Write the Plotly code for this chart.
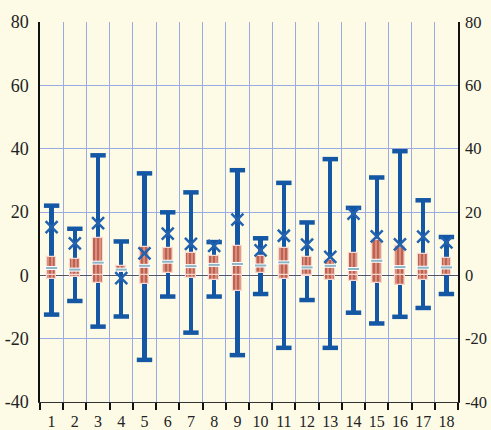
import plotly.graph_objects as go

categories = [str(i) for i in range(1, 19)]
max_vals = [22.0, 14.7, 37.9, 10.7, 32.2, 19.9, 26.2, 10.5, 33.2, 11.7, 29.2, 16.7, 36.7, 21.3, 30.9, 39.2, 23.7, 12.1]
min_vals = [-12.4, -8.1, -16.2, -13.0, -26.7, -6.7, -18.1, -6.7, -25.2, -5.9, -22.9, -7.8, -22.9, -11.8, -15.2, -13.1, -10.3, -5.9]
q3_vals = [5.8, 5.2, 11.7, 3.0, 8.9, 8.5, 7.0, 6.2, 9.3, 6.0, 8.5, 5.8, 4.7, 7.0, 11.2, 9.3, 6.7, 5.6]
q1_vals = [-1.1, -0.6, -2.3, 1.2, -2.7, 0.7, -0.8, -1.4, -4.9, 0.7, -1.2, -0.2, -1.4, -1.9, -2.3, -2.9, -1.4, 0.1]
median_vals = [2.3, 1.8, 4.0, 1.8, 3.0, 4.3, 2.9, 3.3, 3.6, 3.1, 4.1, 2.5, 3.0, 2.0, 4.6, 2.6, 2.4, 2.5]
mark_vals = [15.2, 10.1, 16.5, -0.9, 6.9, 13.2, 9.9, 9.3, 17.6, 7.9, 12.5, 9.7, 5.8, 19.5, 12.3, 9.8, 12.2, 10.4]
y_ticks = [-40, -20, 0, 20, 40, 60, 80]
y_ticktext = ["-40", "-20", "0", "20", "40", "60", "80"]

BG = "#FDFBE6"
GRID = "#9AAAE2"
BLUE = "#1457A5"
BOX = "#D5917E"
STRIPE = "#B23A2C"
BOXLINE = "#F6D8D0"
SERIF = "Times New Roman, Liberation Serif, DejaVu Serif, serif"

fig = go.Figure()

# whiskers
fig.add_trace(go.Bar(
    x=categories, y=[mx - mn for mx, mn in zip(max_vals, min_vals)], base=min_vals,
    width=0.19, marker=dict(color=BLUE, line=dict(width=0)), showlegend=False, hoverinfo="skip"))

# box: negative part and positive part
neg_base = [q1 if q1 < 0 else None for q1 in q1_vals]
neg_h = [(min(q3, 0) - q1) if q1 < 0 else None for q1, q3 in zip(q1_vals, q3_vals)]
pos_base = [max(q1, 0) if q3 > 0 else None for q1, q3 in zip(q1_vals, q3_vals)]
pos_h = [(q3 - max(q1, 0)) if q3 > 0 else None for q1, q3 in zip(q1_vals, q3_vals)]
pattern = dict(shape="|", fgcolor=STRIPE, bgcolor=BOX, size=4, solidity=0.28, fillmode="replace")
for b, h in [(neg_base, neg_h), (pos_base, pos_h)]:
    fig.add_trace(go.Bar(
        x=categories, y=h, base=b, width=0.42,
        marker=dict(color=BOX, pattern=pattern, line=dict(color=BOXLINE, width=1.2)),
        showlegend=False, hoverinfo="skip"))

# caps
fig.add_trace(go.Scatter(
    x=categories + categories, y=max_vals + min_vals, mode="markers",
    marker=dict(symbol="line-ew", size=11, line=dict(color=BLUE, width=4.5)),
    showlegend=False, hoverinfo="skip"))

# median
fig.add_trace(go.Scatter(
    x=categories, y=median_vals, mode="markers",
    marker=dict(symbol="line-ew", size=10, line=dict(color="#FFFFFF", width=4)),
    showlegend=False, hoverinfo="skip"))
fig.add_trace(go.Scatter(
    x=categories, y=median_vals, mode="markers",
    marker=dict(symbol="line-ew", size=8, line=dict(color="#8FB4C4", width=2)),
    showlegend=False, hoverinfo="skip"))

# X markers
fig.add_trace(go.Scatter(
    x=categories, y=mark_vals, mode="markers",
    marker=dict(symbol="x-thin", size=12, line=dict(color="#2262AE", width=2.5)),
    showlegend=False, hoverinfo="skip"))

# dummy for right axis
fig.add_trace(go.Scatter(x=[categories[0]], y=[None], yaxis="y2", showlegend=False, hoverinfo="skip"))

fig.add_shape(type="line", xref="paper", x0=0, x1=1, yref="y", y0=0, y1=0,
              line=dict(color="#FFFFFF", width=4), layer="below")

font = dict(family=SERIF, size=17, color="#222222")

fig.update_layout(
    width=491, height=430,
    margin=dict(l=40, r=33, t=22, b=28),
    paper_bgcolor=BG, plot_bgcolor=BG,
    barmode="overlay", bargap=0,
    font=font,
    xaxis=dict(type="category", categoryorder="array", categoryarray=categories,
               tickson="boundaries", showgrid=True, gridcolor=GRID, gridwidth=1,
               ticks="outside", ticklen=7, tickwidth=2, tickcolor="#111111",
               showline=True, linecolor="#333333", linewidth=1, tickangle=0, automargin=False,
               ticklabelstandoff=5,
               range=[-0.5, 17.5], tickfont=dict(family=SERIF, size=16), zeroline=False),
    yaxis=dict(range=[-40, 80], tickvals=y_ticks, ticktext=y_ticktext, showgrid=True, gridcolor=GRID, gridwidth=1,
               zeroline=True, zerolinecolor="#555555", zerolinewidth=1, automargin=False,
               showline=True, linecolor="#111111", linewidth=1.5,
               ticks="outside", ticklen=6, tickcolor=BG, tickfont=dict(family=SERIF, size=18)),
    yaxis2=dict(range=[-40, 80], tickvals=y_ticks, ticktext=y_ticktext, overlaying="y", side="right",
                showgrid=False, zeroline=False, showline=True, linecolor="#111111", linewidth=1.5,
                automargin=False, tickfont=dict(family=SERIF, size=16.5),
                ticks="", ticklabelstandoff=2),
)

fig.write_html("out.html", config={"displayModeBar": False},
               post_script=f"document.body.style.margin='0';document.body.style.background='{BG}';")
